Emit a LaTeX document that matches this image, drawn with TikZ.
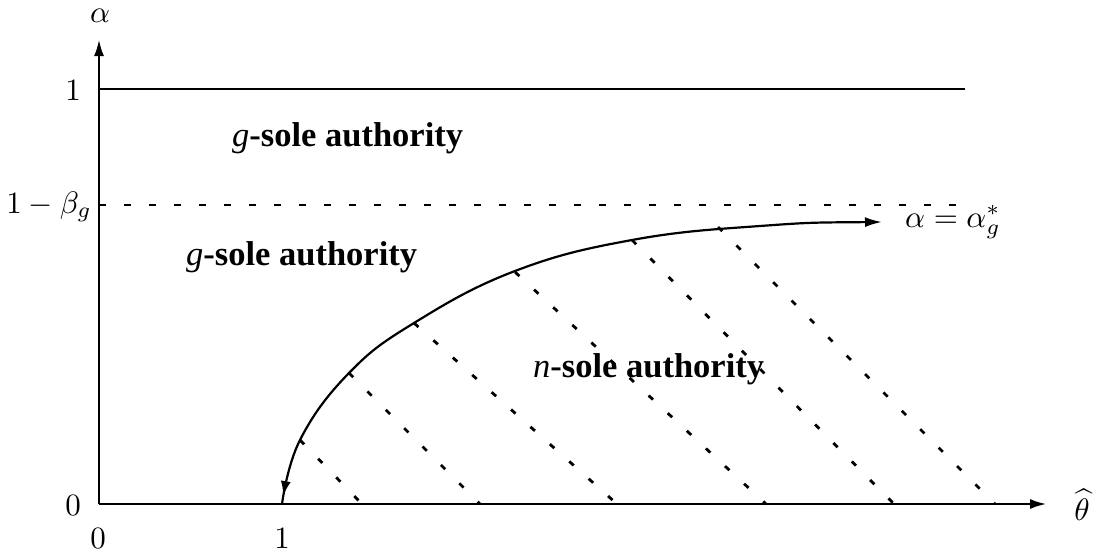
\documentclass[tikz,border=0pt]{standalone}
\usepackage{graphicx}
\usepackage{fontspec}
\setmainfont{Liberation Serif}
\usetikzlibrary{arrows.meta,decorations.markings}
\newcommand{\mlab}[1]{\scalebox{3.1}{$#1$}}
\begin{document}
\begin{tikzpicture}[x=1pt,y=-1pt,
  axisline/.style={line width=2.8pt,-{Latex[length=17pt,width=10pt]}},
  solidline/.style={line width=2.2pt},
  dashline/.style={line width=2.4pt,dash pattern=on 7pt off 18pt},
  hatchline/.style={line width=2.8pt,dash pattern=on 6pt off 20pt},
  curveline/.style={line width=2.2pt,{Latex[length=17pt,width=10pt]}-,
    decoration={markings,mark=at position -8pt with {\arrow{Latex[length=15pt,width=10pt]}}},
    postaction={decorate}},
  mathlab/.style={inner sep=0pt,font=\normalsize},
  regionlab/.style={inner sep=0pt,anchor=base west,font=\fontsize{34.5}{40}\selectfont}]
\useasboundingbox (0,0) rectangle (1097,557);
% axes
\coordinate (O) at (99,504);
\coordinate (ytip) at (99,39);
\coordinate (xtip) at (1047,504);
\draw[axisline] (O) -- (ytip);
\draw[axisline] (O) -- (xtip);
% level lines
\coordinate (onel) at (99,89);
\coordinate (oner) at (965,89);
\draw[solidline] (onel) -- (oner);
\coordinate (betal) at (99,205);
\coordinate (betar) at (965,205);
\draw[dashline] (betal) -- (betar);
% axis labels
\node[mathlab,anchor=base] (alab) at (100,22) {\mlab{\alpha}};
\node[mathlab,anchor=base] (onelab) at (73,100) {\mlab{1}};
\node[mathlab,anchor=base east] (betalab) at (92,213) {\mlab{1-\beta_g}};
\node[mathlab,anchor=base] (zerolab) at (73,515) {\mlab{0}};
\node[mathlab,anchor=base] (xzerolab) at (98,548) {\mlab{0}};
\node[mathlab,anchor=base] (xonelab) at (282,548) {\mlab{1}};
\node[mathlab,anchor=base] (thetalab) at (1082,520) {\mlab{\widehat{\theta}}};
\node[mathlab,anchor=base west] (curvelab) at (905,227) {\mlab{\alpha=\alpha_g^*}};
% hatch lines
\foreach \sx/\sy/\ex in {300/440/362, 349/373/480, 414/323/617, 515/272/766, 632/240/894, 718/227/995}{
  \coordinate (hs) at (\sx,\sy);
  \coordinate (he) at (\ex,504);
  \draw[hatchline] (hs) -- (he);
}
% curve
\draw[curveline] plot[smooth,tension=0.7] coordinates {(882,222) (760,226) (632,240) (515,271) (414,323) (349,373) (300,440) (282,504)};
% region labels
\node[regionlab] (g1) at (232,146) {\textit{g}\textbf{-sole authority}};
\node[regionlab] (g2) at (186,265) {\textit{g}\textbf{-sole authority}};
\node[regionlab] (n1) at (533,377) {\textit{n}\textbf{-sole authority}};
\end{tikzpicture}
\end{document}
